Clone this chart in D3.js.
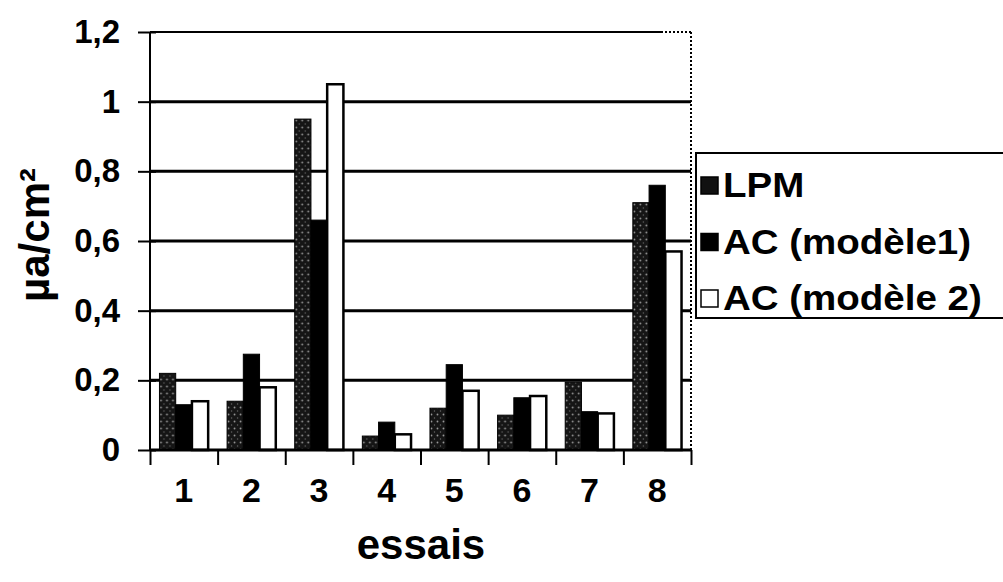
<!DOCTYPE html>
<html>
<head>
<meta charset="utf-8">
<script src="https://cdn.jsdelivr.net/npm/d3@7"></script>
<style>
  body { margin: 0; background: #fff; }
  svg { display: block; font-family: "Liberation Sans", Arial, sans-serif; font-weight: bold; }
</style>
</head>
<body>
<div id="chart"></div>
<script>
var width = 1003
var height = 582

// data
var essais = ["1", "2", "3", "4", "5", "6", "7", "8"]
var series = ["LPM", "AC (modèle1)", "AC (modèle 2)"]
var lpm = [0.22, 0.14, 0.95, 0.04, 0.12, 0.10, 0.195, 0.71]
var ac1 = [0.13, 0.275, 0.66, 0.08, 0.245, 0.15, 0.11, 0.76]
var ac2 = [0.14, 0.18, 1.05, 0.045, 0.17, 0.155, 0.105, 0.57]
var yTicks = [0, 0.2, 0.4, 0.6, 0.8, 1, 1.2]
var yTickLabels = ["0", "0,2", "0,4", "0,6", "0,8", "1", "1,2"]

var values = [lpm, ac1, ac2]

var plotL = 150, plotR = 691, plotT = 32, plotB = 450

var svg = d3.select("#chart")
    .append("svg")
        .attr("width", width)
        .attr("height", height)

var defs = svg.append("defs")
var pat = defs.append("pattern")
    .attr("id", "stipple")
    .attr("patternUnits", "userSpaceOnUse")
    .attr("width", 6)
    .attr("height", 7)
pat.append("rect").attr("width", 6).attr("height", 7).attr("fill", "#151515")
pat.append("circle").attr("cx", 1.5).attr("cy", 1.5).attr("r", 0.9).attr("fill", "#9a9a9a")
pat.append("circle").attr("cx", 4.5).attr("cy", 5).attr("r", 0.7).attr("fill", "#6a6a6a")

var y = d3.scaleLinear().domain([0, 1.2]).range([plotB, plotT])
var x0 = d3.scaleBand().domain(essais).range([plotL, plotR])
    .paddingInner(0.28).paddingOuter(0.14)
var x1 = d3.scaleBand().domain(series).range([0, x0.bandwidth()])
var xb = d3.scaleLinear().domain([0, essais.length]).range([plotL, plotR])

var fills = ["url(#stipple)", "#000", "#fff"]

// gridlines
svg.append("g").selectAll("line")
    .data(yTicks.slice(1, -1))
    .enter().append("line")
        .attr("x1", plotL).attr("x2", plotR)
        .attr("y1", function(d) { return y(d) })
        .attr("y2", function(d) { return y(d) })
        .attr("stroke", "#000")
        .attr("stroke-width", 3)

// top border
svg.append("line")
    .attr("x1", plotL).attr("x2", plotR - 30)
    .attr("y1", y(1.2)).attr("y2", y(1.2))
    .attr("stroke", "#000").attr("stroke-width", 2)
svg.append("line")
    .attr("x1", plotR - 30).attr("x2", plotR)
    .attr("y1", y(1.2)).attr("y2", y(1.2))
    .attr("stroke", "#000").attr("stroke-width", 2)
    .attr("stroke-dasharray", "2,2")

// right border, dotted
svg.append("line")
    .attr("x1", plotR).attr("x2", plotR)
    .attr("y1", plotT).attr("y2", plotB)
    .attr("stroke", "#000").attr("stroke-width", 2)
    .attr("stroke-dasharray", "2,2")

// bars
var groups = svg.append("g").selectAll("g")
    .data(essais)
    .enter().append("g")
        .attr("transform", function(d) { return "translate(" + x0(d) + ",0)" })

groups.selectAll("rect")
    .data(function(d, i) { return series.map(function(s, j) { return {s: s, j: j, v: values[j][i]} }) })
    .enter().append("rect")
        .attr("x", function(d) { return x1(d.s) })
        .attr("y", function(d) { return y(d.v) })
        .attr("width", x1.bandwidth())
        .attr("height", function(d) { return y(0) - y(d.v) })
        .attr("fill", function(d) { return fills[d.j] })
        .attr("stroke", "#000")
        .attr("stroke-width", function(d) { return d.j == 2 ? 2.5 : 1 })

// y axis
var yAxis = svg.append("g")
    .attr("transform", "translate(" + plotL + ",0)")
    .call(d3.axisLeft(y).tickValues(yTicks)
        .tickFormat(function(d, i) { return yTickLabels[i] })
        .tickSize(12).tickPadding(18))
yAxis.select(".domain").attr("stroke-width", 2).attr("d", "M0," + plotB + "V" + plotT)
yAxis.selectAll(".tick line").attr("x1", 6).attr("stroke-width", 2)
yAxis.selectAll("text")
    .attr("font-size", 33)
    .attr("font-weight", "bold")
    .attr("fill", "#000")
    .attr("font-family", "Liberation Sans, Arial, sans-serif")

// x axis: ticks on category boundaries
var xAxis = svg.append("g")
    .attr("transform", "translate(0," + plotB + ")")
    .call(d3.axisBottom(xb).ticks(essais.length).tickFormat("").tickSize(15))
xAxis.select(".domain").attr("stroke-width", 3).attr("d", "M" + plotL + ",0H" + plotR)
xAxis.selectAll(".tick line").attr("stroke-width", 2)

// x labels
var xLab = svg.append("g")
    .attr("transform", "translate(0," + plotB + ")")
    .call(d3.axisBottom(x0).tickSize(0).tickPadding(28))
xLab.select(".domain").remove()
xLab.selectAll("text")
    .attr("font-size", 34)
    .attr("font-weight", "bold")
    .attr("fill", "#000")
    .attr("font-family", "Liberation Sans, Arial, sans-serif")

// axis titles
svg.append("text")
    .attr("x", 421).attr("y", 559)
    .attr("text-anchor", "middle")
    .attr("font-size", 42)
    .text("essais")

svg.append("text")
    .attr("transform", "translate(49,235) rotate(-90)")
    .attr("text-anchor", "middle")
    .attr("font-size", 42)
    .text("µa/cm²")

// legend
var lg = svg.append("g")
lg.append("rect")
    .attr("x", 696).attr("y", 153)
    .attr("width", 320).attr("height", 165)
    .attr("fill", "#fff")
    .attr("stroke", "#000").attr("stroke-width", 2)

var rows = lg.selectAll("g.row")
    .data(series)
    .enter().append("g")
        .attr("class", "row")
        .attr("transform", function(d, i) { return "translate(701," + (185 + i * 56.5) + ")" })

rows.append("rect")
    .attr("x", 0).attr("y", -8)
    .attr("width", 17).attr("height", 17)
    .attr("fill", function(d, i) { return i == 0 ? "#111" : fills[i] })
    .attr("stroke", "#000").attr("stroke-width", 1.5)

rows.append("text")
    .attr("transform", "translate(22,12) scale(1.1,1)")
    .attr("font-size", 35)
    .text(function(d) { return d })
</script>
</body>
</html>
